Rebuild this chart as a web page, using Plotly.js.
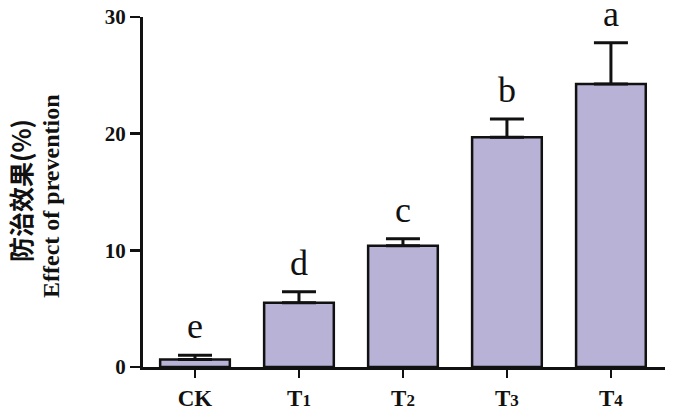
<!DOCTYPE html>
<html><head><meta charset="utf-8">
<script src="https://cdn.plot.ly/plotly-3.0.1.min.js"></script>
<style>body{margin:0;background:#fff}#c{width:674px;height:413px}</style>
</head><body><div id="c"></div>
<script>
const categories = ["CK", "T1", "T2", "T3", "T4"];
const tickLabels = ["CK", "T<span style='font-size:17px'>1</span>", "T<span style='font-size:17px'>2</span>",
                    "T<span style='font-size:17px'>3</span>", "T<span style='font-size:17px'>4</span>"];
const means = [0.65, 5.5, 10.4, 19.7, 24.25];
const errors = [0.35, 0.95, 0.6, 1.55, 3.55];
const letters = ["e", "d", "c", "b", "a"];
const yTicks = [0, 10, 20, 30];
const titleZh = "防治效果(%)";
const titleEn = "Effect of prevention";

const idx = categories.map((_, i) => i);
const trace = {
  type: "bar",
  x: idx,
  y: means,
  width: 0.67,
  marker: {color: "#b8b2d7", line: {color: "#111", width: 2.5}},
  error_y: {type: "data", symmetric: false, array: errors, arrayminus: errors.map(() => 0),
            color: "#111", thickness: 3, width: 17},
  hoverinfo: "none"
};
const annotations = letters.map((l, i) => ({
  x: i, y: means[i] + errors[i], text: l, showarrow: false,
  yanchor: "bottom", yshift: 7,
  font: {family: "Liberation Serif, serif", size: 36, color: "#111"}
}));
annotations.push({
  xref: "paper", yref: "paper", x: -0.2356, y: 0.503, text: titleZh, textangle: -90,
  showarrow: false, xanchor: "center", yanchor: "middle",
  font: {family: "Noto Sans CJK SC", size: 25, color: "#111", weight: "bold"}
});
annotations.push({
  xref: "paper", yref: "paper", x: -0.176, y: 0.489, text: titleEn, textangle: -90,
  showarrow: false, xanchor: "center", yanchor: "middle",
  font: {family: "Liberation Serif, serif", size: 24, color: "#111", weight: "bold"}
});
const layout = {
  width: 674, height: 413,
  margin: {l: 143, r: 9, t: 17, b: 46},
  paper_bgcolor: "#fff", plot_bgcolor: "#fff",
  showlegend: false,
  xaxis: {
    range: [-0.5, 4.52], tickvals: idx, ticktext: tickLabels,
    showline: true, linecolor: "#111", linewidth: 3,
    ticks: "outside", ticklen: 8, tickwidth: 2.5, tickcolor: "#111",
    showgrid: false, zeroline: false,
    tickfont: {family: "Liberation Serif, serif", size: 23, color: "#111", weight: "bold"}
  },
  yaxis: {
    range: [0, 30], tickvals: yTicks,
    showline: true, linecolor: "#111", linewidth: 3,
    ticks: "outside", ticklen: 10, tickwidth: 2.5, tickcolor: "#111",
    showgrid: false, zeroline: false,
    tickfont: {family: "Liberation Serif, serif", size: 21, color: "#111", weight: "bold"}
  },
  annotations: annotations
};
Plotly.newPlot("c", [trace], layout, {displayModeBar: false, staticPlot: true});
</script></body></html>
